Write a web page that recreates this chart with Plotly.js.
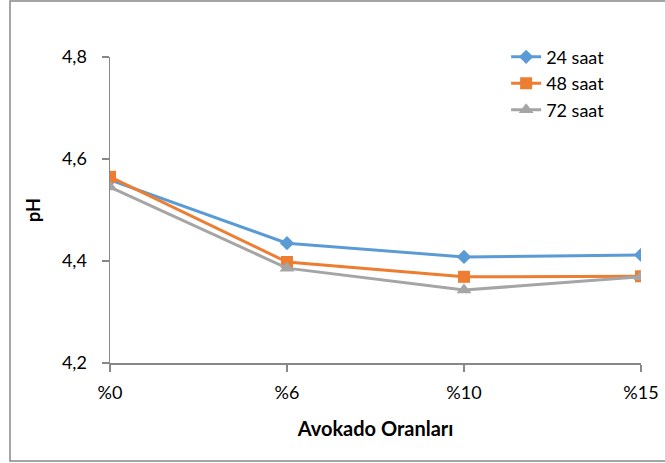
<!DOCTYPE html>
<html>
<head>
<meta charset="utf-8">
<script src="https://cdn.plot.ly/plotly-3.0.1.min.js"></script>
<style>html,body{margin:0;padding:0;background:#fff;}#chart{width:665px;height:463px;}</style>
</head>
<body>
<div id="chart"></div>
<script>
var categories = ['%0', '%6', '%10', '%15'];
var seriesNames = ['24 saat', '48 saat', '72 saat'];
var values24 = [4.559, 4.435, 4.408, 4.412];
var values48 = [4.565, 4.398, 4.369, 4.370];
var values72 = [4.545, 4.386, 4.343, 4.369];
var yTicks = [4.2, 4.4, 4.6, 4.8];

var FONT = 'Lato, "Open Sans", sans-serif';
var colors = ['#5B9BD5', '#ED7D31', '#A5A5A5'];
var symbols = ['diamond', 'square', 'triangle-up'];
var sizes = [11, 12, 13];
var allValues = [values24, values48, values72];

var traces = allValues.map(function (v, i) {
  return {
    x: categories, y: v, name: seriesNames[i], type: 'scatter', mode: 'lines+markers',
    line: {color: colors[i], width: 3},
    marker: {color: colors[i], symbol: symbols[i], size: sizes[i]}
  };
});

var layout = {
  width: 665, height: 463,
  margin: {l: 110, r: 24, t: 57, b: 100},
  paper_bgcolor: '#fff', plot_bgcolor: '#fff',
  separators: ',.',
  font: {family: FONT, size: 18, color: '#000'},
  showlegend: true,
  legend: {x: 0.746, y: 1.06, xanchor: 'left', yanchor: 'top', bgcolor: 'rgba(0,0,0,0)', font: {size: 18}, tracegroupgap: 0},
  xaxis: {
    type: 'category', range: [0, 3], showgrid: false, zeroline: false,
    showline: true, linecolor: '#888', linewidth: 1.5,
    ticks: 'outside', ticklen: 7, tickcolor: '#888', tickwidth: 1.5,
    ticklabelstandoff: 6,
    tickfont: {size: 18},
    title: {text: '<b>Avokado Oranları</b>', font: {size: 20}, standoff: 20}
  },
  yaxis: {
    range: [4.2, 4.8], tickvals: yTicks, tickformat: '.1f', showgrid: false, zeroline: false,
    showline: true, linecolor: '#888', linewidth: 1.5,
    ticks: 'outside', ticklen: 7, tickcolor: '#888', tickwidth: 1.5,
    ticklabelstandoff: 11,
    tickfont: {size: 18},
    title: {text: '<b>pH</b>', font: {size: 18}, standoff: 16}
  },
  shapes: [{
    type: 'rect', xref: 'paper', yref: 'paper',
    x0: -0.1883, x1: 1.0546, y0: -0.320, y1: 1.183,
    line: {color: '#888', width: 1.5}, fillcolor: 'rgba(0,0,0,0)', layer: 'below'
  }]
};

Plotly.newPlot('chart', traces, layout, {displayModeBar: false, staticPlot: true});
</script>
</body>
</html>
